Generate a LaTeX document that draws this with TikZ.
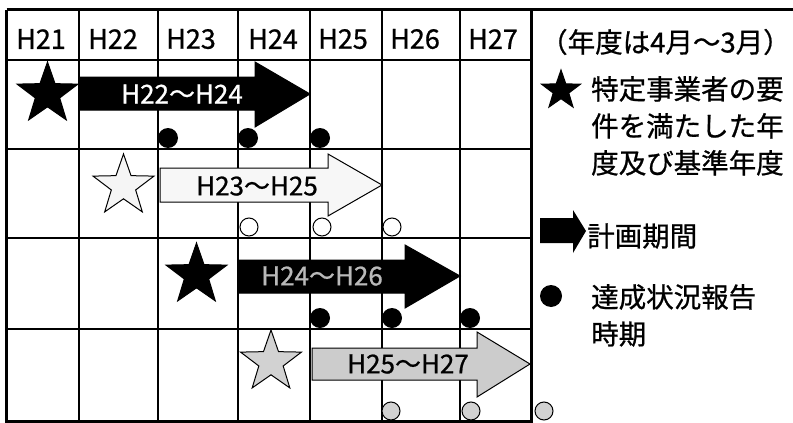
\documentclass[tikz,border=0pt]{standalone}
\usepackage{fontspec}
\setmainfont{Noto Sans CJK JP}[FakeBold=0.8]
\usepackage{tikz}
\usetikzlibrary{shapes.geometric}

\tikzstyle{thin} = [line width=1.3pt]
\tikzstyle{thick} = [line width=3pt]
\tikzstyle{year} = [anchor=west, inner sep=0pt, font=\fontsize{27}{27}\selectfont]
\tikzstyle{legendtext} = [anchor=west, align=left, inner sep=0pt, font=\fontsize{27.5}{37}\selectfont]
\tikzstyle{starmark} = [star, star points=5, star point ratio=2.5, inner sep=0pt, draw=black, line width=1pt]
\tikzstyle{plan} = [draw=black, line width=1pt]
\tikzstyle{plantext} = [inner sep=0pt, font=\fontsize{26}{26}\selectfont]
\tikzstyle{report} = [circle, inner sep=0pt, minimum size=20pt, fill=black]
\tikzstyle{reportopen} = [circle, inner sep=0pt, minimum size=18pt, draw=black, line width=1pt]

\begin{document}
\begin{tikzpicture}[x=1pt, y=-1pt]
			\useasboundingbox (0,0) rectangle (793,423);

			% garis tabel
			\draw [thin] (79,11) -- (79,421) (158,11) -- (158,421) (238,11) -- (238,421);
			\draw [thin] (310,11) -- (310,421) (382,11) -- (382,421) (460,11) -- (460,421);
			\draw [thin] (6.5,60) -- (531,60) (6.5,149) -- (531,149);
			\draw [thin] (6.5,238) -- (531,238) (6.5,329) -- (531,329);
			\draw [thick] (6.5,9.5) -- (793,9.5);
			\draw [thick] (6.5,9.5) -- (6.5,421) -- (531,421) -- (531,9.5);

			% tahun
			\node (h21) [year] at (16,39) {H21};
			\node (h22) [year] at (88,39) {H22};
			\node (h23) [year] at (166,39) {H23};
			\node (h24) [year] at (248,39) {H24};
			\node (h25) [year] at (318,39) {H25};
			\node (h26) [year] at (390,39) {H26};
			\node (h27) [year] at (468,39) {H27};

			% panah periode
			\fill [plan, fill=black] (79,77) -- (255,77) -- (255,62) -- (310,94) -- (255,127) -- (255,110) -- (79,110) -- cycle;
			\fill [plan, fill=gray!6] (160,168) -- (328,168) -- (328,154) -- (382,185) -- (328,216) -- (328,202) -- (160,202) -- cycle;
			\fill [plan, fill=black] (238,260) -- (405,260) -- (405,245) -- (460,276) -- (405,308) -- (405,293) -- (238,293) -- cycle;
			\fill [plan, fill=gray!40] (312,348) -- (477,348) -- (477,332) -- (530,364) -- (477,397) -- (477,380) -- (312,380) -- cycle;
			\node (plan1) [plantext, text=white] at (182,94) {H22～H24};
			\node (plan2) [plantext] at (257,186) {H23～H25};
			\node (plan3) [plantext, text=gray!55] at (322,276) {H24～H26};
			\node (plan4) [plantext] at (408,364) {H25～H27};

			% bintang
			\node (star1) [starmark, fill=black, minimum size=64pt] at (47.5,94) {};
			\node (star2) [starmark, fill=gray!8, minimum size=64pt] at (123.5,186) {};
			\node (star3) [starmark, fill=black, minimum size=64pt] at (196.5,275) {};
			\node (star4) [starmark, fill=gray!35, minimum size=64pt] at (271,362) {};

			% laporan
			\node (dot11) [report] at (168,138) {};
			\node (dot12) [report] at (248,138) {};
			\node (dot13) [report] at (320,138) {};
			\node (dot21) [reportopen, fill=white] at (249,227) {};
			\node (dot22) [reportopen, fill=white] at (322,227) {};
			\node (dot23) [reportopen, fill=white] at (392,227) {};
			\node (dot31) [report] at (320,318) {};
			\node (dot32) [report] at (392,318) {};
			\node (dot33) [report] at (470,318) {};
			\node (dot41) [reportopen, fill=gray!35] at (391,411) {};
			\node (dot42) [reportopen, fill=gray!35] at (471,411) {};
			\node (dot43) [reportopen, fill=gray!35] at (544,411) {};

			% keterangan
			\node (note) [legendtext] at (540,42) {（年度は4月～3月）};
			\node (keystar) [starmark, fill=black, minimum size=41pt] at (561,90.5) {};
			\node (keystartext) [legendtext, anchor=north west] at (591,76) {特定事業者の要\\件を満たした年\\度及び基準年度};
			\fill [fill=black] (540,218) -- (573,218) -- (573,210) -- (586,231) -- (573,253) -- (573,243) -- (540,243) -- cycle;
			\node (keyplan) [legendtext] at (587,236) {計画期間};
			\node (keydot) [report, minimum size=22pt] at (551,296) {};
			\node (keydottext) [legendtext, anchor=north west] at (591,284) {達成状況報告\\時期};
		\end{tikzpicture}
\end{document}
